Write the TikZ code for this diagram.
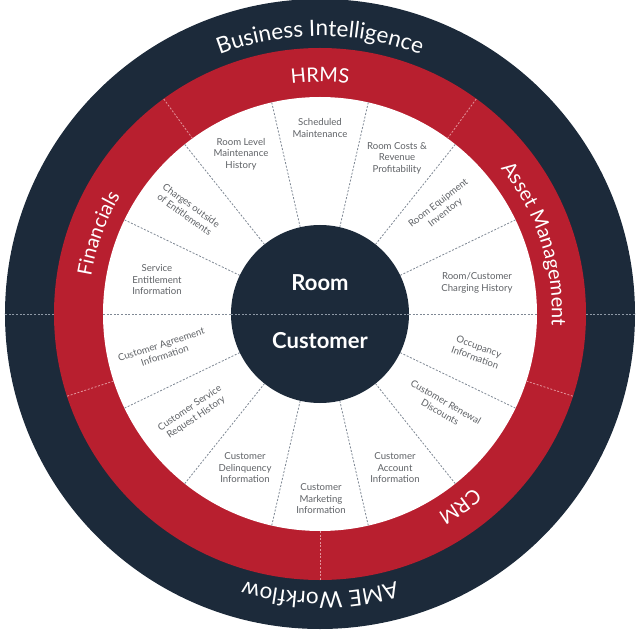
\documentclass[tikz,border=0pt]{standalone}
\usepackage{fontspec}
\setmainfont{Lato}
\usetikzlibrary{decorations.text}
\definecolor{navy}{HTML}{1C2A3A}
\definecolor{ringred}{HTML}{B81F2F}
\definecolor{labelgray}{HTML}{5F6266}
\definecolor{dashgray}{HTML}{7F8894}
\definecolor{dashpink}{HTML}{E3939B}
\definecolor{dashlight}{HTML}{8E99A6}
\newcommand\outerringfont{\color{white}\fontsize{22.5}{22}\selectfont}
\newcommand\innerringfont{\color{white}\fontsize{20}{20}\selectfont}
\begin{document}
\begin{tikzpicture}[x=1pt,y=1pt,
  seg/.style={draw=dashgray, line width=0.8pt, dash pattern=on 2pt off 1.6pt},
  redline/.style={draw=dashpink, line width=0.8pt, dash pattern=on 2pt off 1.6pt},
  darkline/.style={draw=dashlight, line width=0.8pt, dash pattern=on 2pt off 1.6pt},
  lbl/.style={text=labelgray, font=\fontsize{9.6}{11.5}\selectfont, align=center, inner sep=0pt},
  core/.style={text=white, font=\bfseries\fontsize{22}{22}\selectfont, inner sep=0pt},
  ringtext/.style={decorate, decoration={text along path, text align=center, text={#1}}},
]
\useasboundingbox (-320,-320) rectangle (322,314);
% rings
\fill[navy] (0,0) circle (315);
\fill[ringred] (0,0) circle (266);
\fill[white] (0,0) circle (217);
% dark band dividers
\draw[darkline] (180:266) -- (180:315);
\draw[darkline] (0:266) -- (0:315);
% red band dividers
\foreach \a in {54,126,198,270,342} \draw[redline] (\a:217) -- (\a:266);
% white segment dividers
\foreach \k in {1,...,6,8,9,...,13} \draw[seg] ({\k*180/7}:89) -- ({\k*180/7}:217);
% core circle
\fill[navy] (0,0) circle (89);
\draw[seg] (-217,0) -- (-89,0);
\draw[seg] (89,0) -- (217,0);
\draw[darkline] (-89,0) -- (89,0);
\node[core] (room) at (0,31) {Room};
\node[core] (cust) at (0,-27) {Customer};
% ring texts
\path[ringtext={|\outerringfont|Business Intelligence}] (135:278) arc[start angle=135, end angle=45, radius=278];
\path[ringtext={|\outerringfont|AME Workflow}] (315:278) arc[start angle=315, end angle=225, radius=278];
\path[ringtext={|\innerringfont|HRMS}] (126:232) arc[start angle=126, end angle=54, radius=232];
\path[ringtext={|\innerringfont|Asset Management}] (54:232) arc[start angle=54, end angle=-18, radius=232];
\path[ringtext={|\innerringfont|CRM}] (342:232) arc[start angle=342, end angle=270, radius=232];
\path[ringtext={|\innerringfont|Financials}] (196:232) arc[start angle=196, end angle=124, radius=232];
% segment labels
\node[lbl] (l1) at (0,186) {Scheduled\\Maintenance};
\node[lbl] (l2) at (77,156) {Room Costs \&\\Revenue\\Profitability};
\node[lbl, rotate=38] (l3) at (122,106) {Room Equipment\\Inventory};
\node[lbl] (l4) at (157,31) {Room/Customer\\Charging History};
\node[lbl, rotate=-20] (l5) at (157,-38) {Occupancy\\Information};
\node[lbl, rotate=-30] (l6) at (123,-93) {Customer Renewal\\Discounts};
\node[lbl] (l7) at (75,-154) {Customer\\Account\\Information};
\node[lbl] (l8) at (1,-185) {Customer\\Marketing\\Information};
\node[lbl] (l9) at (-75,-154) {Customer\\Delinquency\\Information};
\node[lbl, rotate=34] (l10) at (-127,-99) {Customer Service\\Request History};
\node[lbl, rotate=18] (l11) at (-157,-36) {Customer Agreement\\Information};
\node[lbl] (l12) at (-163,34) {Service\\Entitlement\\Information};
\node[lbl, rotate=-36] (l13) at (-132,104) {Charges outside\\of Entitlements};
\node[lbl] (l14) at (-79,160) {Room Level\\Maintenance\\History};
\end{tikzpicture}
\end{document}
